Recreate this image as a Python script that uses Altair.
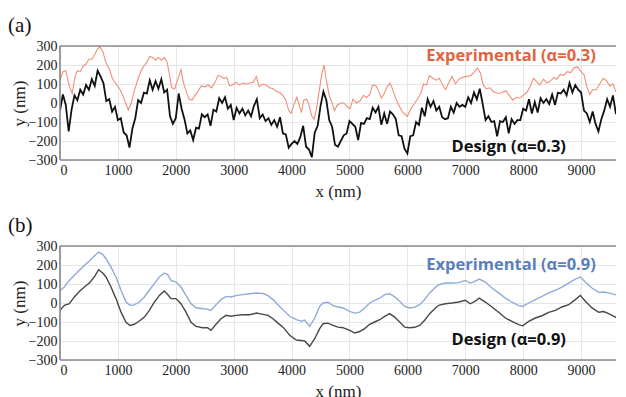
import altair as alt
import pandas as pd

X_MAX = 9603
x_ticks = [0, 1000, 2000, 3000, 4000, 5000, 6000, 7000, 8000, 9000]
y_ticks = [-300, -200, -100, 0, 100, 200, 300]

# ---------------- panel (a): alpha = 0.3 ----------------
design_a_step = 50
design_a_y = [
    -40, 45, -10, -150, -35, 40, 15, 70, 45, 95,
    70, 125, 90, 170, 140, 105, 10, 20, -45, -20,
    -90, -80, -155, -170, -235, -135, -80, 15, 0, 55,
    50, 120, 70, 115, 75, 125, 55, 70, -70, -110,
    -80, 50, -30, -85, -160, -145, -195, -130, -135, -60,
    -75, -60, -120, -35, -45, 25, 0, 30, -30, -10,
    -90, -25, -55, -30, -65, -40, -70, -15, 20, -80,
    -60, -95, -80, -115, -90, -125, -75, -160, -165, -235,
    -215, -200, -215, -180, -120, -230, -245, -285, -155, -120,
    -15, 60, 15, -90, -125, -220, -230, -200, -170, -160,
    -95, -110, -125, -195, -105, -110, -80, -85, -25, -50,
    -20, -115, -55, -110, -45, -60, -85, -170, -175, -240,
    -265, -175, -170, -100, -115, -25, -70, 20, -20, 10,
    -40, -20, -75, -85, -80, -20, -50, 0, -20, -10,
    -20, 30, 0, 55, 20, 75, -5, -90, -70, -100,
    -95, -175, -95, -100, -75, -160, -85, -110, -90, -90,
    -30, -40, 20, -55, 5, -50, 25, 0, 20, -5,
    45, -10, 55, 50, 70, 40, 105, 55, 95, 70,
    55, -40, -55, -100, -45, -110, -150, -85, -40, 20,
    -20, 40, -55, -55, -100, -110,
]
design_a_x = [i * design_a_step for i in range(len(design_a_y))]

exp_a_x = [
    0, 50, 100, 160, 210, 260, 300, 350, 400, 450,
    500, 550, 600, 650, 690, 740, 790, 850, 910, 970,
    1030, 1090, 1140, 1180, 1230, 1280, 1340, 1400, 1450, 1500,
    1550, 1600, 1650, 1700, 1750, 1800, 1850, 1890, 1930, 1980,
    2040, 2090, 2130, 2180, 2230, 2280, 2330, 2380, 2440, 2500,
    2560, 2620, 2680, 2730, 2780, 2830, 2880, 2930, 2980, 3040,
    3100, 3160, 3220, 3280, 3340, 3390, 3440, 3500, 3560, 3620,
    3680, 3740, 3800, 3850, 3900, 3950, 3990, 4040, 4090, 4130,
    4170, 4210, 4260, 4300, 4350, 4390, 4430, 4480, 4520, 4560,
    4600, 4650, 4700, 4740, 4790, 4850, 4900, 4960, 5010, 5060,
    5120, 5180, 5240, 5300, 5350, 5400, 5460, 5510, 5550, 5600,
    5650, 5700, 5730, 5790, 5850, 5920, 6000, 6060, 6120, 6170,
    6230, 6280, 6330, 6380, 6440, 6500, 6550, 6610, 6660, 6720,
    6770, 6830, 6890, 6950, 7030, 7100, 7160, 7210, 7260, 7310,
    7360, 7430, 7480, 7570, 7640, 7700, 7760, 7820, 7880, 7940,
    8000, 8060, 8120, 8180, 8240, 8290, 8350, 8410, 8470, 8530,
    8580, 8640, 8700, 8760, 8820, 8880, 8940, 9000, 9050, 9100,
    9150, 9200, 9260, 9320, 9380, 9430, 9500, 9550, 9600, 9650,
    9700, 9750,
]
exp_a_y = [
    120, 165, 170, 90, 50, 140, 170, 165, 195, 205,
    230, 230, 255, 285, 295, 270, 215, 180, 125, 100,
    75, 35, -5, -37, 0, 60, 120, 170, 195, 215,
    245, 240, 225, 240, 225, 240, 215, 150, 80, 75,
    130, 175, 110, 60, 20, 15, 40, 60, 90, 85,
    95, 80, 110, 145, 140, 130, 135, 90, 95, 110,
    95, 105, 100, 105, 110, 140, 85, 100, 95, 80,
    75, 60, 55, 40, 15, -40, -55, -10, 30, -10,
    -50, 15, 20, -10, -70, -85, -30, 70, 150, 200,
    120, 40, 0, -40, -10, 0, 0, -20, -30, 20,
    0, 10, 40, 30, 45, 95, 90, 60, 25, 50,
    85, 105, 85, 30, -10, -50, -70, -30, -5, 20,
    50, 100, 95, 145, 130, 120, 130, 95, 70, 110,
    140, 100, 125, 135, 140, 145, 165, 185, 160, 95,
    75, 80, 60, 50, 55, 65, 40, 15, 30, 25,
    40, 55, 85, 130, 110, 95, 125, 105, 115, 135,
    125, 150, 145, 165, 160, 185, 190, 165, 150, 85,
    45, 70, 70, 100, 130, 120, 90, 100, 60, 40,
    70, 80,
]

# ---------------- panel (b): alpha = 0.9 ----------------
b_x = [
    0, 75, 161, 248, 334, 421, 507, 593, 668, 737,
    795, 881, 967, 1054, 1140, 1209, 1284, 1370, 1457, 1543,
    1629, 1716, 1802, 1860, 1917, 2004, 2090, 2176, 2263, 2349,
    2464, 2550, 2608, 2694, 2781, 2867, 2953, 3040, 3155, 3276,
    3391, 3506, 3593, 3679, 3765, 3852, 3967, 4082, 4168, 4226,
    4312, 4399, 4485, 4543, 4629, 4715, 4802, 4888, 5003, 5090,
    5176, 5262, 5349, 5435, 5521, 5608, 5694, 5780, 5867, 5953,
    6040, 6126, 6212, 6298, 6385, 6471, 6540, 6655, 6770, 6885,
    7001, 7087, 7173, 7242, 7346, 7461, 7576, 7692, 7807, 7922,
    7991, 8095, 8210, 8325, 8440, 8555, 8670, 8785, 8900, 8987,
    9073, 9188, 9304, 9390, 9476, 9591, 9707, 9750,
]
exp_b_y = [
    65, 84, 119, 146, 172, 198, 221, 247, 268, 256,
    233, 189, 137, 67, 5, -12, -10, 5, 32, 67,
    102, 137, 158, 150, 119, 110, 84, 40, -4, -25,
    -30, -32, -39, -9, 18, 35, 32, 39, 44, 49,
    53, 50, 39, 18, -9, -35, -70, -88, -96, -90,
    -123, -79, -18, 0, 4, -14, -21, -26, -44, -53,
    -48, -26, 0, 14, 25, 44, 49, 32, 9, -18,
    -26, -22, -9, 18, 53, 79, 96, 105, 105, 107,
    119, 105, 115, 126, 110, 79, 53, 26, 4, -14,
    -18, 0, 18, 35, 53, 67, 84, 105, 126, 137,
    110, 79, 56, 58, 53, 44, 26, 30,
]
design_b_y = [
    -39, -12, -4, 32, 60, 84, 105, 137, 175, 158,
    137, 84, 23, -48, -101, -118, -112, -95, -74, -39,
    5, 40, 63, 45, 23, 23, -4, -48, -101, -123,
    -130, -130, -144, -112, -83, -65, -70, -65, -62, -62,
    -53, -60, -65, -83, -106, -127, -170, -195, -197, -200,
    -228, -188, -135, -109, -106, -118, -127, -130, -144, -158,
    -150, -135, -112, -100, -88, -70, -56, -74, -100, -127,
    -130, -128, -118, -91, -56, -30, -12, -4, 0, 5,
    14, -4, 10, 26, 5, -21, -49, -79, -97, -114,
    -120, -97, -79, -67, -49, -39, -21, -9, 18, 40,
    9, -26, -49, -45, -56, -74, -91, -88,
]

# ---------------- annotations ----------------
labels_a_text = ["Experimental (\u03b1=0.3)", "Design (\u03b1=0.3)"]
labels_a_x = [7790, 7750]
labels_a_y = [247, -233]
labels_b_text = ["Experimental (\u03b1=0.9)", "Design (\u03b1=0.9)"]
labels_b_x = [7790, 7750]
labels_b_y = [200, -195]

RED_LINE = "#ef8f78"
RED_TEXT = "#e2643f"
BLUE_LINE = "#90abd8"
BLUE_TEXT = "#5a7fbc"
BLACK_LINE = "#111111"
GRAY_LINE = "#474747"
FRAME = "#8a8a8a"

SERIF = "Liberation Serif"
PLOT_W = 556
PLOT_H = 114


def make_panel(exp_df, des_df, lab_df, exp_color, des_color, tag,
               line_w_exp, line_w_des):
    xs = alt.Scale(domain=[0, X_MAX], nice=False, zero=False)
    ys = alt.Scale(domain=[-300, 300], nice=False, zero=False)
    x_axis = alt.Axis(values=x_ticks, title="x (nm)", format="d", grid=True,
                      labelOverlap=False)
    y_axis = alt.Axis(values=y_ticks, title="y (nm)", format="d", grid=True,
                      labelOverlap=False, tickCount=7)
    x_enc = alt.X("x:Q", scale=xs, axis=x_axis)
    y_enc = alt.Y("y:Q", scale=ys, axis=y_axis)
    exp_line = alt.Chart(exp_df).mark_line(
        clip=True, color=exp_color, strokeWidth=line_w_exp).encode(x=x_enc, y=y_enc)
    des_line = alt.Chart(des_df).mark_line(
        clip=True, color=des_color, strokeWidth=line_w_des).encode(x=x_enc, y=y_enc)
    text = alt.Chart(lab_df).mark_text(
        font="Open Sans", fontWeight="bold", fontSize=16.5, align="center",
        baseline="middle").encode(
        x=x_enc, y=y_enc,
        text="t:N", color=alt.Color("c:N", scale=None))
    # frame: left, top and bottom edges (right edge lies outside the picture)
    frame_left = alt.Chart(lab_df).mark_rule(color=FRAME, strokeWidth=1.2).encode(
        x=alt.value(0), y=alt.value(0), y2=alt.value(PLOT_H))
    frame_top = alt.Chart(lab_df).mark_rule(color=FRAME, strokeWidth=1.2).encode(
        x=alt.value(0), x2=alt.value(PLOT_W), y=alt.value(0))
    frame_bot = alt.Chart(lab_df).mark_rule(color=FRAME, strokeWidth=1.2).encode(
        x=alt.value(0), x2=alt.value(PLOT_W), y=alt.value(PLOT_H))
    return alt.layer(exp_line, des_line, text, frame_left, frame_top, frame_bot).properties(
        width=PLOT_W, height=PLOT_H,
        title=alt.TitleParams(tag, anchor="start", frame="bounds", font=SERIF,
                              fontSize=21, fontWeight="normal", color="#111",
                              offset=3, dx=-2))


exp_a = pd.DataFrame({"x": exp_a_x, "y": exp_a_y})
des_a = pd.DataFrame({"x": design_a_x, "y": design_a_y})
lab_a = pd.DataFrame({"x": labels_a_x, "y": labels_a_y, "t": labels_a_text,
                      "c": [RED_TEXT, "#111111"]})
exp_b = pd.DataFrame({"x": b_x, "y": exp_b_y})
des_b = pd.DataFrame({"x": b_x, "y": design_b_y})
lab_b = pd.DataFrame({"x": labels_b_x, "y": labels_b_y, "t": labels_b_text,
                      "c": [BLUE_TEXT, "#111111"]})

pa = make_panel(exp_a, des_a, lab_a, RED_LINE, BLACK_LINE, "(a)", 1.1, 1.8)
pb = make_panel(exp_b, des_b, lab_b, BLUE_LINE, GRAY_LINE, "(b)", 1.4, 1.4)

chart = alt.vconcat(pa, pb, spacing=16).properties(
    padding={"left": 0, "top": 7, "right": 0, "bottom": 0}
).configure_view(
    stroke=None
).configure_axis(
    labelFont=SERIF, labelFontSize=14, labelColor="#222",
    titleFont=SERIF, titleFontSize=17, titleFontWeight="normal", titleColor="#222",
    gridColor="#e6e6e6", gridWidth=1, domain=False, ticks=False, labelPadding=1,
    labelOverlap=False,
).configure_axisY(
    titlePadding=0, labelPadding=3
).configure_axisX(
    titlePadding=6, labelPadding=3
)

chart.save("out.html", embed_options={"renderer": "svg", "actions": False})
